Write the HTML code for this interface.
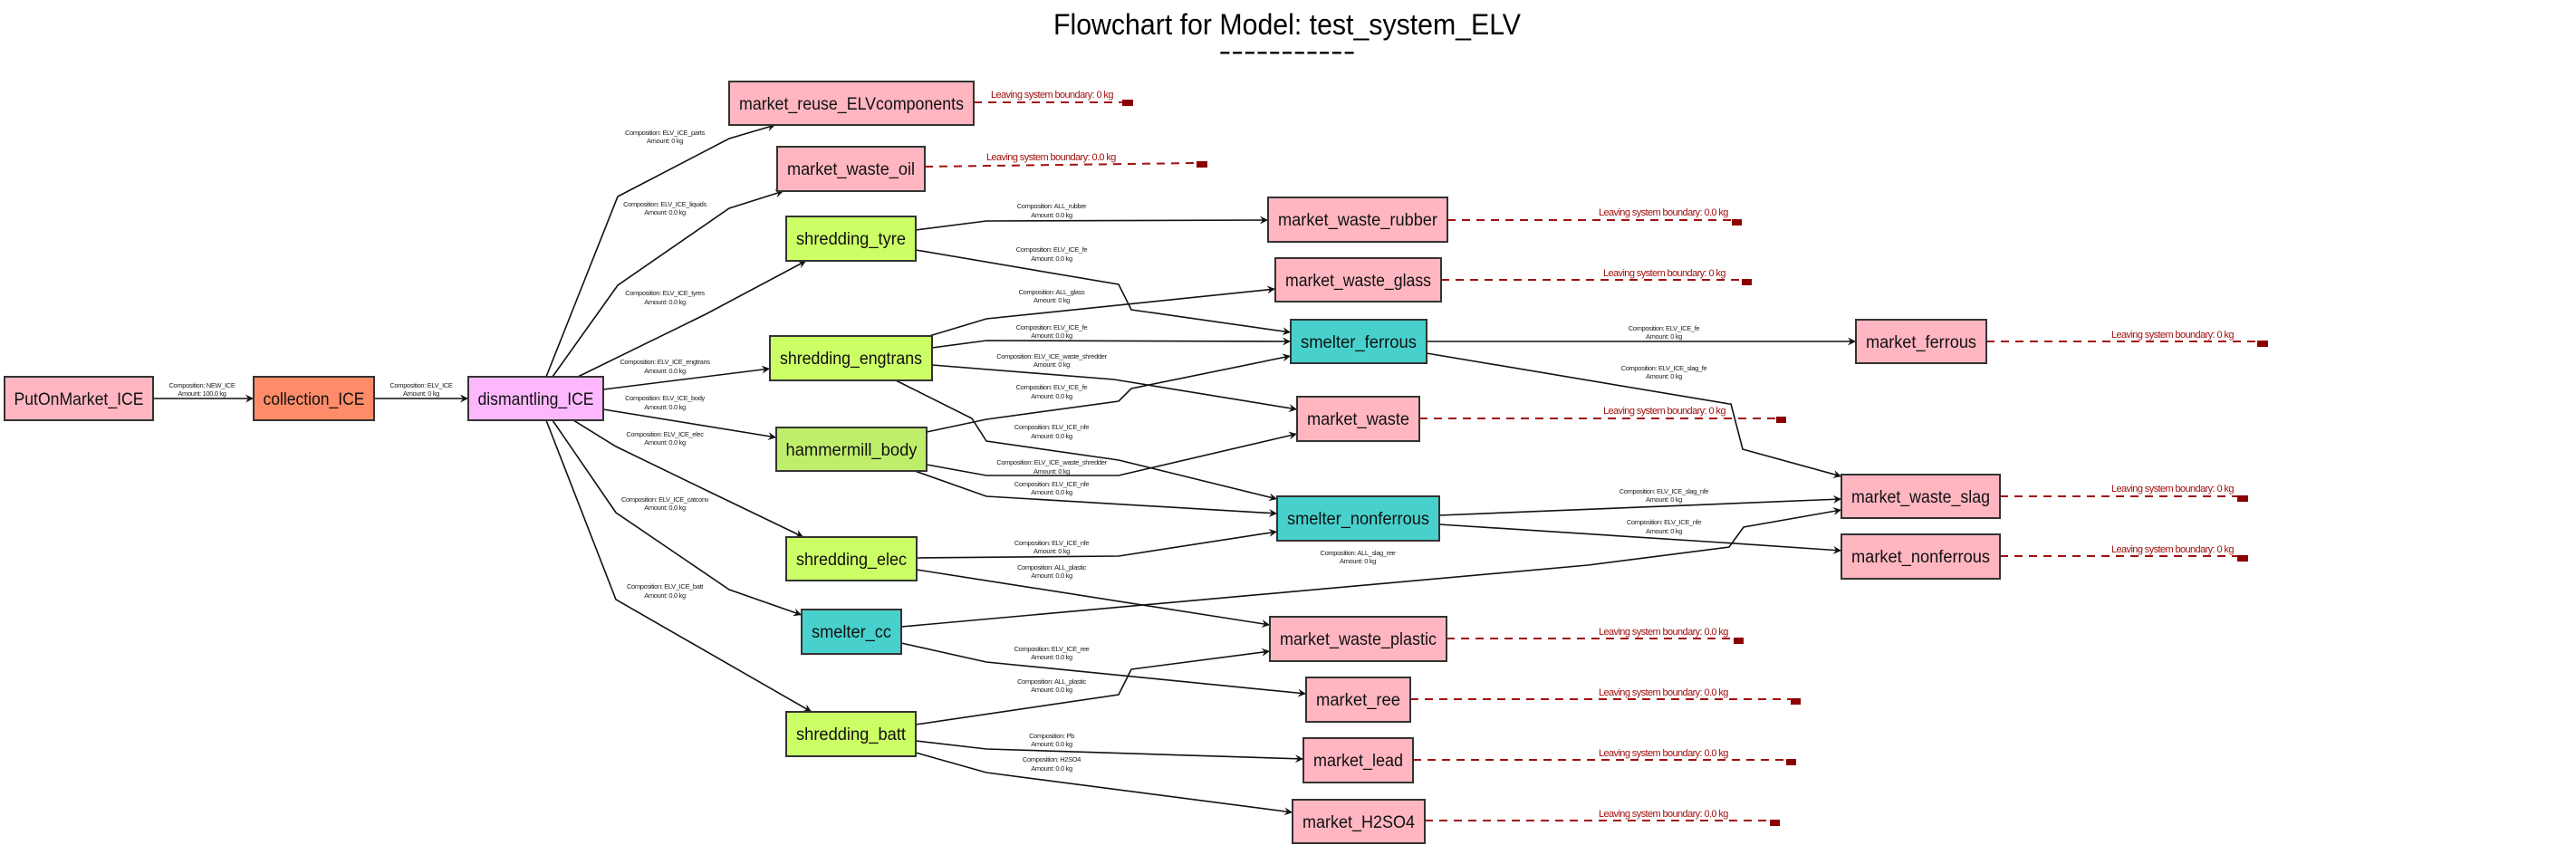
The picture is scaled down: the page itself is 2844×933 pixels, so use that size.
<!DOCTYPE html>
<html><head><meta charset="utf-8"><style>
html,body{margin:0;padding:0;background:#fff;}
svg{display:block;}
.n{stroke:#333;stroke-width:2;}
.nt{font-family:"Liberation Sans",sans-serif;font-size:19px;fill:#111;}
.e{fill:none;stroke:#111;stroke-width:1.6;}
.el{font-family:"Liberation Sans",sans-serif;font-size:7.5px;fill:#222;text-anchor:middle;letter-spacing:-0.35px;}
.lv{fill:none;stroke:#a01010;stroke-width:2;stroke-dasharray:9,7;}
.lt{font-family:"Liberation Sans",sans-serif;font-size:11px;fill:#a01010;letter-spacing:-0.6px;}
.sq{fill:#8b0000;}
</style></head><body>
<svg width="2844" height="933" viewBox="0 0 2844 933" xmlns="http://www.w3.org/2000/svg">
<defs>
<marker id="a" viewBox="0 0 10 10" refX="10" refY="5" markerWidth="9" markerHeight="9" markerUnits="userSpaceOnUse" orient="auto">
<path d="M0,0 L10,5 L0,10 L3.5,5 z" fill="#111"/>
</marker>
</defs>
<text x="1421" y="38" font-family="Liberation Sans,sans-serif" font-size="32" text-anchor="middle" textLength="516" lengthAdjust="spacingAndGlyphs" fill="#000">Flowchart for Model: test_system_ELV</text>
<text x="1421" y="66" font-family="Liberation Sans,sans-serif" font-size="30" text-anchor="middle" textLength="151" lengthAdjust="spacingAndGlyphs" fill="#000">-----------</text>

<g class="e" marker-end="url(#a)">
<polyline points="169,440 280,440"/>
<polyline points="413,440 517,440"/>
<polyline points="603,416 682,217 805,153 856,138"/>
<polyline points="610,416 682,315 805,230 865,211"/>
<polyline points="638,416 779,347 890,288"/>
<polyline points="666,430 850,407"/>
<polyline points="666,452 857,483"/>
<polyline points="633,464 680,493 779,541 887,593"/>
<polyline points="610,464 680,566 805,651 885,679"/>
<polyline points="603,464 680,662 896,786"/>
<polyline points="1011,254 1089,244 1400,243"/>
<polyline points="1011,276 1235,314 1249,342 1425,367"/>
<polyline points="1026,371 1089,352 1408,319"/>
<polyline points="1029,384 1089,376 1425,377"/>
<polyline points="1029,403 1230,419 1432,452"/>
<polyline points="989,420 1073,462 1089,487 1235,508 1410,551"/>
<polyline points="1023,477 1089,463 1235,443 1249,429 1425,393"/>
<polyline points="1023,513 1089,525 1235,525 1432,479"/>
<polyline points="1010,520 1089,548 1410,567"/>
<polyline points="1012,616 1235,614 1410,587"/>
<polyline points="1012,629 1402,690"/>
<polyline points="995,692 1753,624 1909,604 1925,582 2033,563"/>
<polyline points="995,710 1089,731 1442,766"/>
<polyline points="1011,800 1235,767 1249,739 1402,719"/>
<polyline points="1011,818 1089,827 1439,838"/>
<polyline points="1011,831 1089,853 1427,897"/>
<polyline points="1575,377 2049,377"/>
<polyline points="1575,390 1909,446 1911,446 1924,496 2033,526"/>
<polyline points="1589,569 2033,551"/>
<polyline points="1589,579 1900,599 2033,608"/>
</g>

<g class="el">
<text x="223" y="428">Composition: NEW_ICE</text><text x="223" y="437">Amount: 100.0  kg</text>
<text x="465" y="428">Composition: ELV_ICE</text><text x="465" y="437">Amount: 0  kg</text>
<text x="734" y="149">Composition: ELV_ICE_parts</text><text x="734" y="158">Amount: 0  kg</text>
<text x="734" y="228">Composition: ELV_ICE_liquids</text><text x="734" y="237">Amount: 0.0  kg</text>
<text x="734" y="326">Composition: ELV_ICE_tyres</text><text x="734" y="336">Amount: 0.0  kg</text>
<text x="734" y="402">Composition: ELV_ICE_engtrans</text><text x="734" y="412">Amount: 0.0  kg</text>
<text x="734" y="442">Composition: ELV_ICE_body</text><text x="734" y="452">Amount: 0.0  kg</text>
<text x="734" y="482">Composition: ELV_ICE_elec</text><text x="734" y="491">Amount: 0.0  kg</text>
<text x="734" y="554">Composition: ELV_ICE_catconv</text><text x="734" y="563">Amount: 0.0  kg</text>
<text x="734" y="650">Composition: ELV_ICE_batt</text><text x="734" y="660">Amount: 0.0  kg</text>
<text x="1161" y="230">Composition: ALL_rubber</text><text x="1161" y="240">Amount: 0.0  kg</text>
<text x="1161" y="278">Composition: ELV_ICE_fe</text><text x="1161" y="288">Amount: 0.0  kg</text>
<text x="1161" y="325">Composition: ALL_glass</text><text x="1161" y="334">Amount: 0  kg</text>
<text x="1161" y="364">Composition: ELV_ICE_fe</text><text x="1161" y="373">Amount: 0.0  kg</text>
<text x="1161" y="396">Composition: ELV_ICE_waste_shredder</text><text x="1161" y="405">Amount: 0  kg</text>
<text x="1161" y="430">Composition: ELV_ICE_fe</text><text x="1161" y="440">Amount: 0.0  kg</text>
<text x="1161" y="474">Composition: ELV_ICE_nfe</text><text x="1161" y="484">Amount: 0.0  kg</text>
<text x="1161" y="513">Composition: ELV_ICE_waste_shredder</text><text x="1161" y="523">Amount: 0  kg</text>
<text x="1161" y="537">Composition: ELV_ICE_nfe</text><text x="1161" y="546">Amount: 0.0  kg</text>
<text x="1161" y="602">Composition: ELV_ICE_nfe</text><text x="1161" y="611">Amount: 0  kg</text>
<text x="1161" y="629">Composition: ALL_plastic</text><text x="1161" y="638">Amount: 0.0  kg</text>
<text x="1499" y="613">Composition: ALL_slag_ree</text><text x="1499" y="622">Amount: 0  kg</text>
<text x="1161" y="719">Composition: ELV_ICE_ree</text><text x="1161" y="728">Amount: 0.0  kg</text>
<text x="1161" y="755">Composition: ALL_plastic</text><text x="1161" y="764">Amount: 0.0  kg</text>
<text x="1161" y="815">Composition: Pb</text><text x="1161" y="824">Amount: 0.0  kg</text>
<text x="1161" y="841">Composition: H2SO4</text><text x="1161" y="851">Amount: 0.0  kg</text>
<text x="1837" y="365">Composition: ELV_ICE_fe</text><text x="1837" y="374">Amount: 0  kg</text>
<text x="1837" y="409">Composition: ELV_ICE_slag_fe</text><text x="1837" y="418">Amount: 0  kg</text>
<text x="1837" y="545">Composition: ELV_ICE_slag_nfe</text><text x="1837" y="554">Amount: 0  kg</text>
<text x="1837" y="579">Composition: ELV_ICE_nfe</text><text x="1837" y="589">Amount: 0  kg</text>
</g>

<g>
<polyline class="lv" points="1075,113 1239,113"/><rect class="sq" x="1239" y="110" width="12" height="7"/><text class="lt" x="1094" y="108">Leaving system boundary: 0 kg</text>
<polyline class="lv" points="1021,184 1321,180"/><rect class="sq" x="1321" y="178" width="12" height="7"/><text class="lt" x="1089" y="177">Leaving system boundary: 0.0 kg</text>
<polyline class="lv" points="1598,243 1912,243"/><rect class="sq" x="1912" y="242" width="11" height="7"/><text class="lt" x="1765" y="238">Leaving system boundary: 0.0 kg</text>
<polyline class="lv" points="1591,309 1923,309"/><rect class="sq" x="1923" y="308" width="11" height="7"/><text class="lt" x="1770" y="305">Leaving system boundary: 0 kg</text>
<polyline class="lv" points="1567,462 1961,462"/><rect class="sq" x="1961" y="460" width="11" height="7"/><text class="lt" x="1770" y="457">Leaving system boundary: 0 kg</text>
<polyline class="lv" points="2193,377 2492,377"/><rect class="sq" x="2492" y="376" width="12" height="7"/><text class="lt" x="2331" y="373">Leaving system boundary: 0 kg</text>
<polyline class="lv" points="2208,548 2470,548"/><rect class="sq" x="2470" y="547" width="12" height="7"/><text class="lt" x="2331" y="543">Leaving system boundary: 0 kg</text>
<polyline class="lv" points="2208,614 2470,614"/><rect class="sq" x="2470" y="613" width="12" height="7"/><text class="lt" x="2331" y="610">Leaving system boundary: 0 kg</text>
<polyline class="lv" points="1597,705 1914,705"/><rect class="sq" x="1914" y="704" width="11" height="7"/><text class="lt" x="1765" y="701">Leaving system boundary: 0.0 kg</text>
<polyline class="lv" points="1557,772 1977,772"/><rect class="sq" x="1977" y="771" width="11" height="7"/><text class="lt" x="1765" y="768">Leaving system boundary: 0.0 kg</text>
<polyline class="lv" points="1560,839 1972,839"/><rect class="sq" x="1972" y="838" width="11" height="7"/><text class="lt" x="1765" y="835">Leaving system boundary: 0.0 kg</text>
<polyline class="lv" points="1573,906 1954,906"/><rect class="sq" x="1954" y="905" width="11" height="7"/><text class="lt" x="1765" y="902">Leaving system boundary: 0.0 kg</text>
</g>

<g>
<rect class="n" x="5" y="416" width="164" height="48" fill="#ffb6c1"/><text class="nt" x="87" y="447" text-anchor="middle" textLength="143" lengthAdjust="spacingAndGlyphs">PutOnMarket_ICE</text>
<rect class="n" x="280" y="416" width="133" height="48" fill="#fe8c69"/><text class="nt" x="346.5" y="447" text-anchor="middle" textLength="112" lengthAdjust="spacingAndGlyphs">collection_ICE</text>
<rect class="n" x="517" y="416" width="149" height="48" fill="#fdb8fd"/><text class="nt" x="591.5" y="447" text-anchor="middle" textLength="128" lengthAdjust="spacingAndGlyphs">dismantling_ICE</text>
<rect class="n" x="805" y="90" width="270" height="48" fill="#ffb6c1"/><text class="nt" x="940" y="121" text-anchor="middle" textLength="248" lengthAdjust="spacingAndGlyphs">market_reuse_ELVcomponents</text>
<rect class="n" x="858" y="162" width="163" height="49" fill="#ffb6c1"/><text class="nt" x="939.5" y="193" text-anchor="middle" textLength="141" lengthAdjust="spacingAndGlyphs">market_waste_oil</text>
<rect class="n" x="868" y="239" width="143" height="49" fill="#ccff66"/><text class="nt" x="939.5" y="270" text-anchor="middle" textLength="121" lengthAdjust="spacingAndGlyphs">shredding_tyre</text>
<rect class="n" x="850" y="371" width="179" height="49" fill="#ccff66"/><text class="nt" x="939.5" y="402" text-anchor="middle" textLength="157" lengthAdjust="spacingAndGlyphs">shredding_engtrans</text>
<rect class="n" x="857" y="472" width="166" height="48" fill="#bfee6b"/><text class="nt" x="940" y="503" text-anchor="middle" textLength="145" lengthAdjust="spacingAndGlyphs">hammermill_body</text>
<rect class="n" x="868" y="593" width="144" height="48" fill="#ccff66"/><text class="nt" x="940" y="624" text-anchor="middle" textLength="122" lengthAdjust="spacingAndGlyphs">shredding_elec</text>
<rect class="n" x="885" y="673" width="110" height="49" fill="#48d1cc"/><text class="nt" x="940" y="704" text-anchor="middle" textLength="88" lengthAdjust="spacingAndGlyphs">smelter_cc</text>
<rect class="n" x="868" y="786" width="143" height="49" fill="#ccff66"/><text class="nt" x="939.5" y="817" text-anchor="middle" textLength="121" lengthAdjust="spacingAndGlyphs">shredding_batt</text>
<rect class="n" x="1400" y="218" width="198" height="49" fill="#ffb6c1"/><text class="nt" x="1499" y="249" text-anchor="middle" textLength="176" lengthAdjust="spacingAndGlyphs">market_waste_rubber</text>
<rect class="n" x="1408" y="285" width="183" height="48" fill="#ffb6c1"/><text class="nt" x="1499.5" y="316" text-anchor="middle" textLength="161" lengthAdjust="spacingAndGlyphs">market_waste_glass</text>
<rect class="n" x="1425" y="353" width="150" height="48" fill="#48d1cc"/><text class="nt" x="1500" y="384" text-anchor="middle" textLength="128" lengthAdjust="spacingAndGlyphs">smelter_ferrous</text>
<rect class="n" x="1432" y="438" width="135" height="49" fill="#ffb6c1"/><text class="nt" x="1499.5" y="469" text-anchor="middle" textLength="113" lengthAdjust="spacingAndGlyphs">market_waste</text>
<rect class="n" x="1410" y="548" width="179" height="49" fill="#48d1cc"/><text class="nt" x="1499.5" y="579" text-anchor="middle" textLength="157" lengthAdjust="spacingAndGlyphs">smelter_nonferrous</text>
<rect class="n" x="1402" y="681" width="195" height="49" fill="#ffb6c1"/><text class="nt" x="1499.5" y="712" text-anchor="middle" textLength="173" lengthAdjust="spacingAndGlyphs">market_waste_plastic</text>
<rect class="n" x="1442" y="748" width="115" height="49" fill="#ffb6c1"/><text class="nt" x="1499.5" y="779" text-anchor="middle" textLength="93" lengthAdjust="spacingAndGlyphs">market_ree</text>
<rect class="n" x="1439" y="815" width="121" height="49" fill="#ffb6c1"/><text class="nt" x="1499.5" y="846" text-anchor="middle" textLength="99" lengthAdjust="spacingAndGlyphs">market_lead</text>
<rect class="n" x="1427" y="883" width="146" height="48" fill="#ffb6c1"/><text class="nt" x="1500" y="914" text-anchor="middle" textLength="124" lengthAdjust="spacingAndGlyphs">market_H2SO4</text>
<rect class="n" x="2049" y="353" width="144" height="48" fill="#ffb6c1"/><text class="nt" x="2121" y="384" text-anchor="middle" textLength="122" lengthAdjust="spacingAndGlyphs">market_ferrous</text>
<rect class="n" x="2033" y="524" width="175" height="48" fill="#ffb6c1"/><text class="nt" x="2120.5" y="555" text-anchor="middle" textLength="153" lengthAdjust="spacingAndGlyphs">market_waste_slag</text>
<rect class="n" x="2033" y="590" width="175" height="49" fill="#ffb6c1"/><text class="nt" x="2120.5" y="621" text-anchor="middle" textLength="153" lengthAdjust="spacingAndGlyphs">market_nonferrous</text>
</g>
</svg>
</body></html>
